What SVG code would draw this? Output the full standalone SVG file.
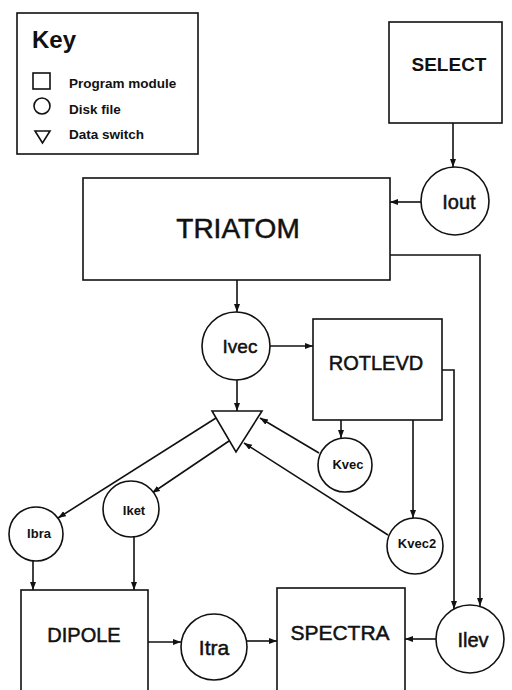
<svg xmlns="http://www.w3.org/2000/svg" width="512" height="690" viewBox="0 0 512 690">
<style>
.box{fill:#fff;stroke:#111;stroke-width:1.6}
.ln{fill:none;stroke:#111;stroke-width:1.6}
.t{font-family:"Liberation Sans",Arial,sans-serif;fill:#111;text-anchor:middle;stroke:#111;stroke-width:0.5}
.k{font-family:"Liberation Sans",Arial,sans-serif;fill:#111;font-size:13.5px;font-weight:bold}
</style>
<defs>
<marker id="ah" markerUnits="userSpaceOnUse" markerWidth="9" markerHeight="7" refX="8" refY="3" orient="auto">
<path d="M0,0 L8,3 L0,6 z" fill="#111"/>
</marker>
</defs>
<rect x="0" y="0" width="512" height="690" fill="#fff"/>
<g id="key">
<rect class="box" x="17" y="13" width="181" height="141"/>
<text x="32" y="48" style="font-family:'Liberation Sans',Arial,sans-serif;font-weight:bold;font-size:24px;fill:#111">Key</text>
<rect class="box" x="33" y="73" width="17" height="16"/>
<text class="k" x="69" y="88">Program module</text>
<circle class="box" cx="42" cy="106" r="8"/>
<text class="k" x="69" y="114">Disk file</text>
<path class="box" d="M35,131 L50,131 L42.5,143 z"/>
<text class="k" x="69" y="139">Data switch</text>
</g>
<g id="connectors">
<path class="ln" d="M453,123 V167" marker-end="url(#ah)"/>
<path class="ln" d="M421,202 H390" marker-end="url(#ah)"/>
<path class="ln" d="M390,255 H480 V606" marker-end="url(#ah)"/>
<path class="ln" d="M237,280 V312" marker-end="url(#ah)"/>
<path class="ln" d="M270,346 H313" marker-end="url(#ah)"/>
<path class="ln" d="M442,370 H454 V609" marker-end="url(#ah)"/>
<path class="ln" d="M237,380 V411" marker-end="url(#ah)"/>
<path class="ln" d="M341,420 V438" marker-end="url(#ah)"/>
<path class="ln" d="M413,420 V518" marker-end="url(#ah)"/>
<path class="ln" d="M319,453 L260,418" marker-end="url(#ah)"/>
<path class="ln" d="M388,535 L244,443" marker-end="url(#ah)"/>
<path class="ln" d="M216,418 L58,518" marker-end="url(#ah)"/>
<path class="ln" d="M229,441 L152,493" marker-end="url(#ah)"/>
<path class="ln" d="M33,561 V590" marker-end="url(#ah)"/>
<path class="ln" d="M134,537 V590" marker-end="url(#ah)"/>
<path class="ln" d="M148,642 H181" marker-end="url(#ah)"/>
<path class="ln" d="M247,641 H277" marker-end="url(#ah)"/>
<path class="ln" d="M436,639 H405" marker-end="url(#ah)"/>
</g>
<g id="select">
<rect class="box" x="389" y="22" width="113" height="101"/>
<text class="t" x="449" y="71" style="font-size:19px;font-weight:bold;stroke-width:0">SELECT</text>
</g>
<g id="iout">
<circle class="box" cx="455" cy="201" r="34"/>
<text class="t" x="459" y="209" style="font-size:20px">Iout</text>
</g>
<g id="triatom">
<rect class="box" x="83" y="178" width="307" height="102"/>
<text class="t" x="238" y="238" style="font-size:28px">TRIATOM</text>
</g>
<g id="ivec">
<circle class="box" cx="236" cy="346" r="34"/>
<text class="t" x="240" y="353" style="font-size:19px">Ivec</text>
</g>
<g id="rotlevd">
<rect class="box" x="313" y="319" width="129" height="101"/>
<text class="t" x="376" y="370" style="font-size:20px">ROTLEVD</text>
</g>
<g id="switch">
<path class="box" d="M212,411 L262,411 L236,452 z"/>
</g>
<g id="kvec">
<circle class="box" cx="345" cy="465" r="27"/>
<text class="t" x="348" y="469" style="font-size:13px;font-weight:bold;stroke-width:0">Kvec</text>
</g>
<g id="kvec2">
<circle class="box" cx="415" cy="546" r="28"/>
<text class="t" x="417" y="548" style="font-size:13px;font-weight:bold;stroke-width:0">Kvec2</text>
</g>
<g id="ibra">
<circle class="box" cx="36" cy="534" r="27"/>
<text class="t" x="39" y="538" style="font-size:13px;font-weight:bold;stroke-width:0">Ibra</text>
</g>
<g id="iket">
<circle class="box" cx="131" cy="509" r="28"/>
<text class="t" x="134" y="515" style="font-size:13px;font-weight:bold;stroke-width:0">Iket</text>
</g>
<g id="dipole">
<rect class="box" x="21" y="590" width="127" height="110"/>
<text class="t" x="84" y="642" style="font-size:20px">DIPOLE</text>
</g>
<g id="itra">
<circle class="box" cx="214" cy="647" r="33"/>
<text class="t" x="214" y="655" style="font-size:21px">Itra</text>
</g>
<g id="spectra">
<rect class="box" x="277" y="588" width="128" height="112"/>
<text class="t" x="340" y="640" style="font-size:21px">SPECTRA</text>
</g>
<g id="ilev">
<circle class="box" cx="470" cy="639" r="34"/>
<text class="t" x="473" y="647" style="font-size:20px">Ilev</text>
</g>
</svg>
